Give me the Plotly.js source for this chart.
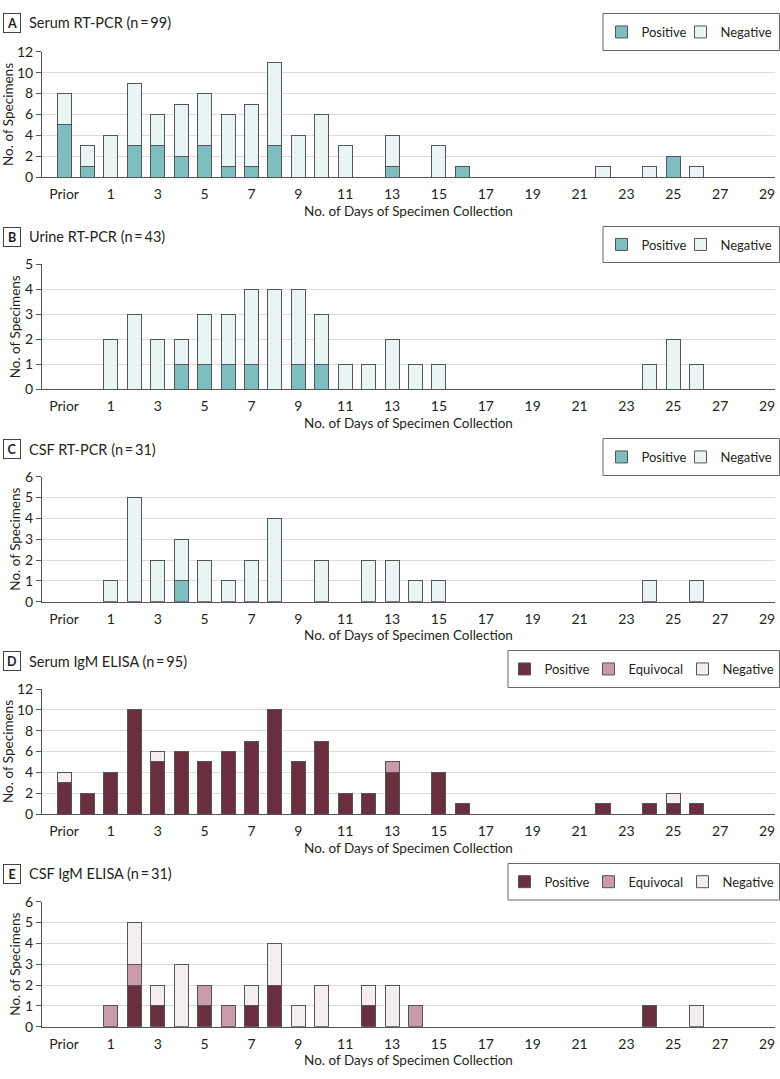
<!DOCTYPE html>
<html>
<head>
<meta charset="utf-8">
<script src="https://cdn.plot.ly/plotly-3.0.1.min.js"></script>
<style>
  html, body { margin: 0; padding: 0; background: #fff; overflow: hidden; }
  #plot { width: 780px; height: 1079px; }
</style>
</head>
<body>
<div id="plot"></div>
<script>
// categories: Prior, day 0 ... day 29
const DAY_LABELS = ["Prior", "0", "1", "2", "3", "4", "5", "6", "7", "8", "9",
  "10", "11", "12", "13", "14", "15", "16", "17", "18", "19",
  "20", "21", "22", "23", "24", "25", "26", "27", "28", "29"];
const TICK_LABELS = ["Prior", "1", "3", "5", "7", "9", "11", "13", "15", "17", "19", "21", "23", "25", "27", "29"];

// A  Serum RT-PCR
const SERUM_PCR_POS = [5, 1, 0, 3, 3, 2, 3, 1, 1, 3, 0, 0, 0, 0, 1, 0, 0, 1, 0, 0, 0, 0, 0, 0, 0, 0, 2, 0, 0, 0, 0];
const SERUM_PCR_NEG = [3, 2, 4, 6, 3, 5, 5, 5, 6, 8, 4, 6, 3, 0, 3, 0, 3, 0, 0, 0, 0, 0, 0, 1, 0, 1, 0, 1, 0, 0, 0];
// B  Urine RT-PCR
const URINE_PCR_POS = [0, 0, 0, 0, 0, 1, 1, 1, 1, 0, 1, 1, 0, 0, 0, 0, 0, 0, 0, 0, 0, 0, 0, 0, 0, 0, 0, 0, 0, 0, 0];
const URINE_PCR_NEG = [0, 0, 2, 3, 2, 1, 2, 2, 3, 4, 3, 2, 1, 1, 2, 1, 1, 0, 0, 0, 0, 0, 0, 0, 0, 1, 2, 1, 0, 0, 0];
// C  CSF RT-PCR
const CSF_PCR_POS = [0, 0, 0, 0, 0, 1, 0, 0, 0, 0, 0, 0, 0, 0, 0, 0, 0, 0, 0, 0, 0, 0, 0, 0, 0, 0, 0, 0, 0, 0, 0];
const CSF_PCR_NEG = [0, 0, 1, 5, 2, 2, 2, 1, 2, 4, 0, 2, 0, 2, 2, 1, 1, 0, 0, 0, 0, 0, 0, 0, 0, 1, 0, 1, 0, 0, 0];
// D  Serum IgM ELISA
const SERUM_IGM_POS = [3, 2, 4, 10, 5, 6, 5, 6, 7, 10, 5, 7, 2, 2, 4, 0, 4, 1, 0, 0, 0, 0, 0, 1, 0, 1, 1, 1, 0, 0, 0];
const SERUM_IGM_EQU = [0, 0, 0, 0, 0, 0, 0, 0, 0, 0, 0, 0, 0, 0, 1, 0, 0, 0, 0, 0, 0, 0, 0, 0, 0, 0, 0, 0, 0, 0, 0];
const SERUM_IGM_NEG = [1, 0, 0, 0, 1, 0, 0, 0, 0, 0, 0, 0, 0, 0, 0, 0, 0, 0, 0, 0, 0, 0, 0, 0, 0, 0, 1, 0, 0, 0, 0];
// E  CSF IgM ELISA
const CSF_IGM_POS = [0, 0, 0, 2, 1, 0, 1, 0, 1, 2, 0, 0, 0, 1, 0, 0, 0, 0, 0, 0, 0, 0, 0, 0, 0, 1, 0, 0, 0, 0, 0];
const CSF_IGM_EQU = [0, 0, 1, 1, 0, 0, 1, 1, 0, 0, 0, 0, 0, 0, 0, 1, 0, 0, 0, 0, 0, 0, 0, 0, 0, 0, 0, 0, 0, 0, 0];
const CSF_IGM_NEG = [0, 0, 0, 2, 1, 3, 0, 0, 1, 2, 1, 2, 0, 1, 2, 0, 0, 0, 0, 0, 0, 0, 0, 0, 0, 0, 0, 1, 0, 0, 0];

const TEAL = "#7dbfbe", TEAL_NEG = "#e9f4f4";
const MAROON = "#6b2e3e", ROSE = "#c99aa7", MAROON_NEG = "#f4eef3";
const OUTLINE = "#555555";
const FONT = "Lato, 'Open Sans', sans-serif";
const INK = "#231f20";

const W = 780, H = 1079;
const fx = v => v / W;
const fy = v => 1 - v / H;

// Prior sits one slot left of day 0
const xPos = DAY_LABELS.map((_, i) => i - 1);
const tickVals = TICK_LABELS.map(t => DAY_LABELS.indexOf(t) - 1);

// each legend entry gets its own little legend so the spacing follows the original
const PCR_KEYS = [601.5, 680.5];
const ELISA_KEYS = [504.5, 588.5, 682.5];

const panels = [
  { tag: "A", title: "Serum RT-PCR (n\u2009=\u200999)", ymax: 12, dtick: 2, top: 51.7, bottom: 177.3, head: 22.5, box: [603, 13.5, 779.5, 50.5],
    keys: PCR_KEYS, series: [["Positive", SERUM_PCR_POS, TEAL], ["Negative", SERUM_PCR_NEG, TEAL_NEG]] },
  { tag: "B", title: "Urine RT-PCR (n\u2009=\u200943)", ymax: 5, dtick: 1, top: 264.3, bottom: 389.3, head: 237, box: [603, 226.5, 779.5, 262.5],
    keys: PCR_KEYS, series: [["Positive", URINE_PCR_POS, TEAL], ["Negative", URINE_PCR_NEG, TEAL_NEG]] },
  { tag: "C", title: "CSF RT-PCR (n\u2009=\u200931)", ymax: 6, dtick: 1, top: 476.7, bottom: 601.7, head: 449, box: [603, 438.5, 779.5, 475.5],
    keys: PCR_KEYS, series: [["Positive", CSF_PCR_POS, TEAL], ["Negative", CSF_PCR_NEG, TEAL_NEG]] },
  { tag: "D", title: "Serum IgM ELISA (n\u2009=\u200995)", ymax: 12, dtick: 2, top: 689, bottom: 814, head: 661, box: [508, 650.5, 779.5, 687.5],
    keys: ELISA_KEYS, series: [["Positive", SERUM_IGM_POS, MAROON], ["Equivocal", SERUM_IGM_EQU, ROSE], ["Negative", SERUM_IGM_NEG, MAROON_NEG]] },
  { tag: "E", title: "CSF IgM ELISA (n\u2009=\u200931)", ymax: 6, dtick: 1, top: 901.7, bottom: 1026.7, head: 873.5, box: [508, 863.5, 779.5, 900],
    keys: ELISA_KEYS, series: [["Positive", CSF_IGM_POS, MAROON], ["Equivocal", CSF_IGM_EQU, ROSE], ["Negative", CSF_IGM_NEG, MAROON_NEG]] }
];

const traces = [];
const layout = {
  width: W, height: H,
  margin: { l: 0, r: 0, t: 0, b: 0 },
  paper_bgcolor: "#fff", plot_bgcolor: "#fff",
  font: { family: FONT, size: 13, color: INK },
  barmode: "stack",
  showlegend: true,
  annotations: [],
  shapes: []
};

let legendCount = 0;

panels.forEach((p, k) => {
  const sfx = k ? String(k + 1) : "";

  p.series.forEach(([name, vals, color], j) => {
    legendCount += 1;
    const legendKey = legendCount === 1 ? "legend" : "legend" + legendCount;
    traces.push({
      type: "bar",
      name,
      x: xPos,
      y: vals.map(v => v || null),
      width: 0.6,
      marker: { color, line: { color: OUTLINE, width: 1 } },
      xaxis: "x" + sfx,
      yaxis: "y" + sfx,
      legend: legendKey,
      hoverinfo: "skip"
    });
    layout[legendKey] = {
      orientation: "h",
      x: fx(p.keys[j]),
      xanchor: "left",
      y: fy((p.box[1] + p.box[3]) / 2),
      yanchor: "middle",
      bgcolor: "rgba(0,0,0,0)",
      borderwidth: 0,
      font: { size: 13 },
      itemclick: false,
      itemdoubleclick: false
    };
  });

  layout["xaxis" + sfx] = {
    anchor: "y" + sfx,
    domain: [fx(42), fx(775)],
    range: [-1.94, 29.34],
    tickmode: "array",
    tickvals: tickVals,
    ticktext: TICK_LABELS,
    ticks: "outside",
    ticklen: 4,
    tickcolor: "rgba(0,0,0,0)",
    showgrid: false,
    zeroline: false,
    showline: true,
    linecolor: OUTLINE,
    linewidth: 1,
    tickfont: { size: 14 },
    title: { text: "No. of Days of Specimen Collection", font: { size: 13.5 }, standoff: 5 },
    fixedrange: true
  };
  layout["yaxis" + sfx] = {
    anchor: "x" + sfx,
    domain: [fy(p.bottom), fy(p.top)],
    range: [0, p.ymax],
    tick0: 0,
    dtick: p.dtick,
    ticks: "outside",
    ticklen: 5,
    tickcolor: OUTLINE,
    showgrid: true,
    gridcolor: "#dcdcdc",
    gridwidth: 1,
    zeroline: false,
    showline: true,
    linecolor: OUTLINE,
    linewidth: 1,
    tickfont: { size: 14 },
    title: { text: "No. of Specimens", font: { size: 13.5 }, standoff: 1 },
    fixedrange: true
  };

  layout.shapes.push({
    type: "rect", xref: "paper", yref: "paper",
    x0: fx(p.box[0]), x1: fx(p.box[2]), y0: fy(p.box[3]), y1: fy(p.box[1]),
    line: { color: "#666", width: 1 }, fillcolor: "rgba(0,0,0,0)"
  });

  layout.annotations.push({
    xref: "paper", yref: "paper",
    x: fx(3), xanchor: "left", y: fy(p.head), yanchor: "middle",
    text: "<b>" + p.tag + "</b>", showarrow: false,
    font: { size: 12.5, color: INK },
    width: 12, height: 14, borderpad: 2,
    bordercolor: "#444", borderwidth: 1
  });
  layout.annotations.push({
    xref: "paper", yref: "paper",
    x: fx(27), xanchor: "left", y: fy(p.head), yanchor: "middle",
    text: p.title, showarrow: false,
    font: { size: 14.5, color: INK }
  });
});

Plotly.newPlot("plot", traces, layout, { staticPlot: true, displayModeBar: false });
</script>
</body>
</html>
